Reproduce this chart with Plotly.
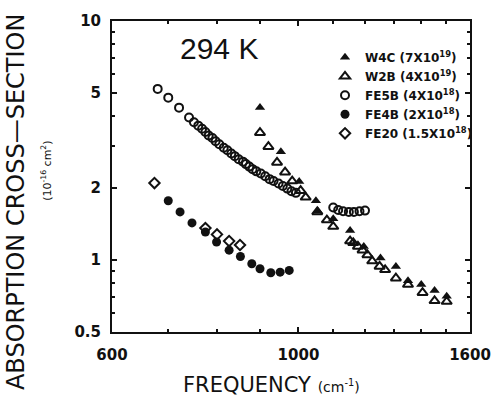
import plotly.graph_objects as go

# ---- data ----
w4c_x = [900, 953, 1002, 1049, 1055, 1100, 1152, 1196, 1252, 1306, 1350, 1400, 1452, 1501]
w4c_y = [4.35, 2.84, 2.13, 1.77, 1.60, 1.49, 1.33, 1.14, 1.02, 0.94, 0.82, 0.79, 0.745, 0.706]

w2b_x = [900, 921, 943, 964, 983, 1006, 1020, 1053, 1081, 1100, 1152, 1162, 1177, 1192,
         1208, 1224, 1249, 1268, 1306, 1350, 1405, 1452, 1501]
w2b_y = [3.41, 2.98, 2.56, 2.33, 2.14, 1.95, 1.83, 1.59, 1.47, 1.38, 1.20, 1.18, 1.14, 1.10,
         1.05, 0.99, 0.94, 0.91, 0.84, 0.79, 0.73, 0.675, 0.67]

fe5b_x = [680, 700, 721, 741, 751, 760, 768, 775, 782, 790, 797, 805, 815, 823, 832, 840,
          849, 859, 866, 874, 882, 891, 902, 913, 924, 934, 947, 958, 970, 981, 993,
          1100, 1115, 1130, 1148, 1164, 1182, 1200]
fe5b_y = [5.2, 4.78, 4.34, 3.95, 3.77, 3.65, 3.54, 3.43, 3.32, 3.24, 3.14, 3.05, 2.95, 2.88,
          2.79, 2.72, 2.64, 2.58, 2.52, 2.46, 2.40, 2.35, 2.30, 2.24, 2.18, 2.14, 2.09, 2.04,
          1.99, 1.94, 1.91,
          1.66, 1.62, 1.60, 1.59, 1.59, 1.60, 1.61]

fe4b_x = [700, 723, 747, 775, 799, 827, 853, 880, 900, 927, 951, 975]
fe4b_y = [1.77, 1.59, 1.43, 1.31, 1.19, 1.10, 1.035, 0.965, 0.92, 0.885, 0.89, 0.905]

fe20_x = [674, 775, 800, 827, 852]
fe20_y = [2.10, 1.36, 1.28, 1.20, 1.156]

series_names = [
    "W4C (7X10<sup>19</sup>)",
    "W2B (4X10<sup>19</sup>)",
    "FE5B (4X10<sup>18</sup>)",
    "FE4B (2X10<sup>18</sup>)",
    "FE20 (1.5X10<sup>18</sup>)",
]

x_ticks = [600, 1000, 1600]
x_minor = [700, 800, 900, 1100, 1200, 1300, 1400, 1500]
y_ticks = [0.5, 1, 2, 5, 10]
y_ticktext = ["0.5", "1", "2", "5", "10"]
y_minor = [0.6, 0.7, 0.8, 0.9, 3, 4, 6, 7, 8, 9]

INK = "#111111"

fig = go.Figure()
styles = [
    (w4c_x, w4c_y, "triangle-up", INK, 0, 9),
    (w2b_x, w2b_y, "triangle-up-open", INK, 2, 9),
    (fe5b_x, fe5b_y, "circle-open", INK, 2, 8),
    (fe4b_x, fe4b_y, "circle", INK, 0, 9),
    (fe20_x, fe20_y, "diamond-open", INK, 2, 8),
]
for (xs, ys, sym, col, lw, sz), name in zip(styles, series_names):
    fig.add_trace(go.Scatter(
        x=xs, y=ys, mode="markers", name=name,
        marker=dict(symbol=sym, size=sz, color=col, line=dict(color=col, width=lw)),
    ))

axis_common = dict(
    showline=True, linecolor=INK, linewidth=2, mirror="allticks",
    ticks="inside", ticklen=5, tickwidth=1.5, tickcolor=INK,
    showgrid=False, zeroline=False,
    tickfont=dict(family="DejaVu Sans", size=15, color=INK, weight="bold"),
)

fig.update_xaxes(
    type="log", range=[2.7781513, 3.2041200],
    tickvals=x_ticks, ticktext=[str(v) for v in x_ticks],
    minor=dict(tickvals=x_minor, ticks="inside", ticklen=3, tickcolor=INK),
    ticklabelstandoff=8,
    **axis_common,
)
fig.update_yaxes(
    type="log", range=[-0.30103, 1.0],
    tickvals=y_ticks, ticktext=y_ticktext,
    minor=dict(tickvals=y_minor, ticks="inside", ticklen=3, tickcolor=INK),
    ticklabelstandoff=6,
    **axis_common,
)

fig.update_layout(
    width=503, height=406,
    margin=dict(l=112, r=25, t=15, b=74),
    paper_bgcolor="white", plot_bgcolor="white",
    font=dict(family="DejaVu Sans", color=INK),
    showlegend=True,
    legend=dict(
        x=0.595, y=0.93, xanchor="left", yanchor="top",
        bgcolor="rgba(0,0,0,0)", borderwidth=0,
        font=dict(family="DejaVu Sans", size=12, color=INK, weight="bold"),
        itemwidth=30, tracegroupgap=0,
    ),
    annotations=[
        dict(text="294 K", x=0.30, y=0.91, xref="paper", yref="paper",
             showarrow=False, xanchor="center", yanchor="middle",
             font=dict(family="Liberation Sans", size=30, color=INK)),
        dict(text="ABSORPTION CROSS\u2014SECTION", x=-0.268, y=0.418,
             xref="paper", yref="paper", textangle=-90, showarrow=False,
             xanchor="center", yanchor="middle",
             font=dict(family="DejaVu Sans", size=24, color=INK)),
        dict(text="(10<sup>-16</sup> cm<sup>2</sup>)", x=-0.183, y=0.52,
             xref="paper", yref="paper", textangle=-90, showarrow=False,
             xanchor="center", yanchor="middle",
             font=dict(family="DejaVu Sans", size=11, color=INK)),
        dict(text="FREQUENCY <span style='font-size:14px'>(cm<sup>-1</sup>)</span>",
             x=0.445, y=-0.172, xref="paper", yref="paper", showarrow=False,
             xanchor="center", yanchor="middle",
             font=dict(family="DejaVu Sans", size=21, color=INK)),
    ],
)

# remove the browser's default 8px body margin so the 503x406 figure fills the window
fig.write_html(
    "out.html",
    config={"displayModeBar": False},
    post_script="document.body.style.margin='0';document.body.style.overflow='hidden';",
)
